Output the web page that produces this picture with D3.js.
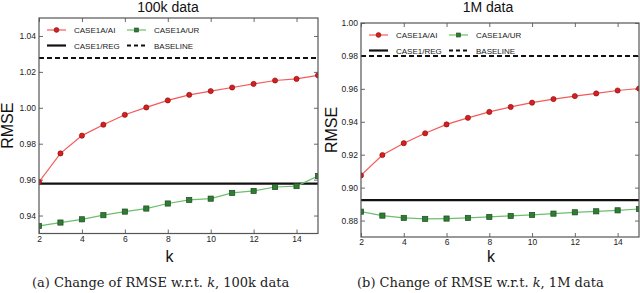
<!DOCTYPE html>
<html>
<head>
<meta charset="utf-8">
<script src="https://cdn.jsdelivr.net/npm/d3@7"></script>
<style>
  body { margin: 0; background: #fff; }
  svg { display: block; }
  .tick-label { font-family: "Liberation Sans", Arial, sans-serif; font-size: 8.5px; fill: #222; }
  .legend-label { font-family: "Liberation Sans", Arial, sans-serif; font-size: 8px; fill: #222; }
  .axis-title { font-family: "Liberation Sans", Arial, sans-serif; font-size: 16px; fill: #111; }
  .panel-title { font-family: "Liberation Sans", Arial, sans-serif; font-size: 14px; fill: #111; }
  .caption { font-family: "DejaVu Serif", "Liberation Serif", serif; font-size: 13px; fill: #222; }
</style>
</head>
<body>
<div id="chart"></div>
<script>
// data
const kValues = [2, 3, 4, 5, 6, 7, 8, 9, 10, 11, 12, 13, 14, 15];

const ai100k = [0.9587, 0.9746, 0.9845, 0.9906, 0.9961, 1.0002, 1.0041, 1.0072, 1.0093, 1.0113, 1.0133, 1.0152, 1.0161, 1.0181];
const ur100k = [0.9342, 0.9361, 0.9379, 0.9402, 0.9422, 0.9439, 0.9467, 0.9487, 0.9494, 0.9526, 0.9537, 0.9559, 0.9564, 0.9620];
const reg100k = 0.9578;
const baseline100k = 1.0277;

const ai1M = [0.9074, 0.9198, 0.9270, 0.9330, 0.9384, 0.9424, 0.9460, 0.9490, 0.9516, 0.9538, 0.9556, 0.9572, 0.9590, 0.9602];
const ur1M = [0.8854, 0.8830, 0.8816, 0.8810, 0.8812, 0.8816, 0.8822, 0.8828, 0.8834, 0.8842, 0.8850, 0.8856, 0.8862, 0.8870];
const reg1M = 0.8924;
const baseline1M = 0.9800;

const xTicks = [2, 4, 6, 8, 10, 12, 14];
const yTicks100k = [0.94, 0.96, 0.98, 1.00, 1.02, 1.04];
const yTicks1M = [0.88, 0.90, 0.92, 0.94, 0.96, 0.98, 1.00];

const legendNames = ["CASE1A/AI", "CASE1A/UR", "CASE1/REG", "BASELINE"];

const panels = [
  { id: "a", title: "100k data", caption: ["(a)  Change of RMSE w.r.t. ", "k", ", 100k data"],
    ai: ai100k, ur: ur100k, reg: reg100k, base: baseline100k,
    yDomain: [0.93, 1.05], yTicks: yTicks100k,
    left: 39, right: 318, top: 18, bottom: 233.5,
    titleX: 168, rmseX: 13, captionX: 32 },
  { id: "b", title: "1M data", caption: ["(b)  Change of RMSE w.r.t. ", "k", ", 1M data"],
    ai: ai1M, ur: ur1M, reg: reg1M, base: baseline1M,
    yDomain: [0.87, 1.00], yTicks: yTicks1M,
    left: 361, right: 639, top: 23, bottom: 237,
    titleX: 488, rmseX: 337, captionX: 357 }
];

const svg = d3.select("#chart").append("svg")
  .attr("width", 640)
  .attr("height", 293);

panels.forEach(p => {
  const x = d3.scaleLinear().domain([2, 15]).range([p.left, p.right]);
  const y = d3.scaleLinear().domain(p.yDomain).range([p.bottom, p.top]);

  const g = svg.append("g");

  svg.append("clipPath").attr("id", "clip-" + p.id)
    .append("rect")
    .attr("x", p.left).attr("y", p.top)
    .attr("width", p.right - p.left).attr("height", p.bottom - p.top);

  // axes with inward ticks, mirrored on top and right
  const bottomAxis = g.append("g").attr("transform", `translate(0,${p.bottom})`)
    .call(d3.axisBottom(x).tickValues(xTicks).tickSizeInner(-4).tickSizeOuter(0).tickPadding(3));
  const topAxis = g.append("g").attr("transform", `translate(0,${p.top})`)
    .call(d3.axisTop(x).tickValues(xTicks).tickSizeInner(-4).tickSizeOuter(0).tickFormat(""));
  const leftAxis = g.append("g").attr("transform", `translate(${p.left},0)`)
    .call(d3.axisLeft(y).tickValues(p.yTicks).tickSizeInner(-4).tickSizeOuter(0).tickPadding(3)
      .tickFormat(d3.format(".2f")));
  const rightAxis = g.append("g").attr("transform", `translate(${p.right},0)`)
    .call(d3.axisRight(y).tickValues(p.yTicks).tickSizeInner(-4).tickSizeOuter(0).tickFormat(""));

  [bottomAxis, topAxis, leftAxis, rightAxis].forEach(a => {
    a.select(".domain").remove();
    a.selectAll(".tick line").attr("stroke", "#444").attr("stroke-width", 0.8);
    a.selectAll(".tick text").attr("class", "tick-label").attr("font-size", null).attr("font-family", null);
  });
  bottomAxis.selectAll(".tick text").attr("dy", "0.6em");

  const plot = g.append("g").attr("clip-path", `url(#clip-${p.id})`);

  // baseline (dashed) and regression (solid)
  plot.append("line")
    .attr("x1", p.left).attr("x2", p.right)
    .attr("y1", y(p.base)).attr("y2", y(p.base))
    .attr("stroke", "#111").attr("stroke-width", 2).attr("stroke-dasharray", "5,3");

  plot.append("line")
    .attr("x1", p.left).attr("x2", p.right)
    .attr("y1", y(p.reg)).attr("y2", y(p.reg))
    .attr("stroke", "#111").attr("stroke-width", 2.4);

  const line = d3.line().x((d, i) => x(kValues[i])).y(d => y(d));

  // UR series (green squares)
  plot.append("path").datum(p.ur)
    .attr("d", line).attr("fill", "none")
    .attr("stroke", "#6cbf6c").attr("stroke-width", 1.2);
  plot.selectAll(".sq").data(p.ur).enter().append("rect")
    .attr("x", (d, i) => x(kValues[i]) - 2.6)
    .attr("y", d => y(d) - 2.6)
    .attr("width", 5.2).attr("height", 5.2)
    .attr("fill", "#2e7d32").attr("stroke", "#1b4a1e").attr("stroke-width", 0.7);

  // AI series (red circles)
  plot.append("path").datum(p.ai)
    .attr("d", line).attr("fill", "none")
    .attr("stroke", "#f45a5a").attr("stroke-width", 1.2);
  plot.selectAll(".dot").data(p.ai).enter().append("circle")
    .attr("cx", (d, i) => x(kValues[i]))
    .attr("cy", d => y(d))
    .attr("r", 2.6)
    .attr("fill", "#d81e1e").attr("stroke", "#7a1010").attr("stroke-width", 0.6);

  // frame
  g.append("rect")
    .attr("x", p.left).attr("y", p.top)
    .attr("width", p.right - p.left).attr("height", p.bottom - p.top)
    .attr("fill", "none").attr("stroke", "#555").attr("stroke-width", 1.2);

  // legend
  const lg = g.append("g").attr("transform", `translate(${p.left + 8},${p.top + 12})`);
  const items = [
    { name: legendNames[0], col: 0, row: 0, kind: "ai" },
    { name: legendNames[1], col: 1, row: 0, kind: "ur" },
    { name: legendNames[2], col: 0, row: 1, kind: "reg" },
    { name: legendNames[3], col: 1, row: 1, kind: "base" }
  ];
  items.forEach(it => {
    const ox = it.col * 80, oy = it.row * 15.5;
    const ig = lg.append("g").attr("transform", `translate(${ox},${oy})`);
    if (it.kind === "ai") {
      ig.append("line").attr("x1", 0).attr("x2", 19).attr("y1", 0).attr("y2", 0)
        .attr("stroke", "#f45a5a").attr("stroke-width", 1.2);
      ig.append("circle").attr("cx", 9.5).attr("cy", 0).attr("r", 2.4)
        .attr("fill", "#d81e1e").attr("stroke", "#7a1010").attr("stroke-width", 0.6);
    } else if (it.kind === "ur") {
      ig.append("line").attr("x1", 0).attr("x2", 19).attr("y1", 0).attr("y2", 0)
        .attr("stroke", "#6cbf6c").attr("stroke-width", 1.2);
      ig.append("rect").attr("x", 7.5).attr("y", -2).attr("width", 4).attr("height", 4)
        .attr("fill", "#2e7d32").attr("stroke", "#1b4a1e").attr("stroke-width", 0.6);
    } else if (it.kind === "reg") {
      ig.append("line").attr("x1", 0).attr("x2", 19).attr("y1", 0).attr("y2", 0)
        .attr("stroke", "#111").attr("stroke-width", 2.2);
    } else {
      ig.append("line").attr("x1", 0).attr("x2", 19).attr("y1", 0).attr("y2", 0)
        .attr("stroke", "#111").attr("stroke-width", 2).attr("stroke-dasharray", "4,3");
    }
    ig.append("text").attr("class", "legend-label")
      .attr("x", 27).attr("y", 3).text(it.name);
  });

  // titles
  svg.append("text").attr("class", "panel-title")
    .attr("x", p.titleX).attr("y", 12).attr("text-anchor", "middle").text(p.title);

  svg.append("text").attr("class", "axis-title")
    .attr("transform", `translate(${p.rmseX},${(p.top + p.bottom) / 2}) rotate(-90)`)
    .attr("text-anchor", "middle").text("RMSE");

  svg.append("text").attr("class", "axis-title")
    .attr("x", (p.left + p.right) / 2 - 9).attr("y", 262)
    .attr("text-anchor", "middle").text("k");

  const cap = svg.append("text").attr("class", "caption")
    .attr("x", p.captionX).attr("y", 287);
  cap.append("tspan").text(p.caption[0]);
  cap.append("tspan").attr("font-style", "italic").text(p.caption[1]);
  cap.append("tspan").text(p.caption[2]);
});
</script>
</body>
</html>
